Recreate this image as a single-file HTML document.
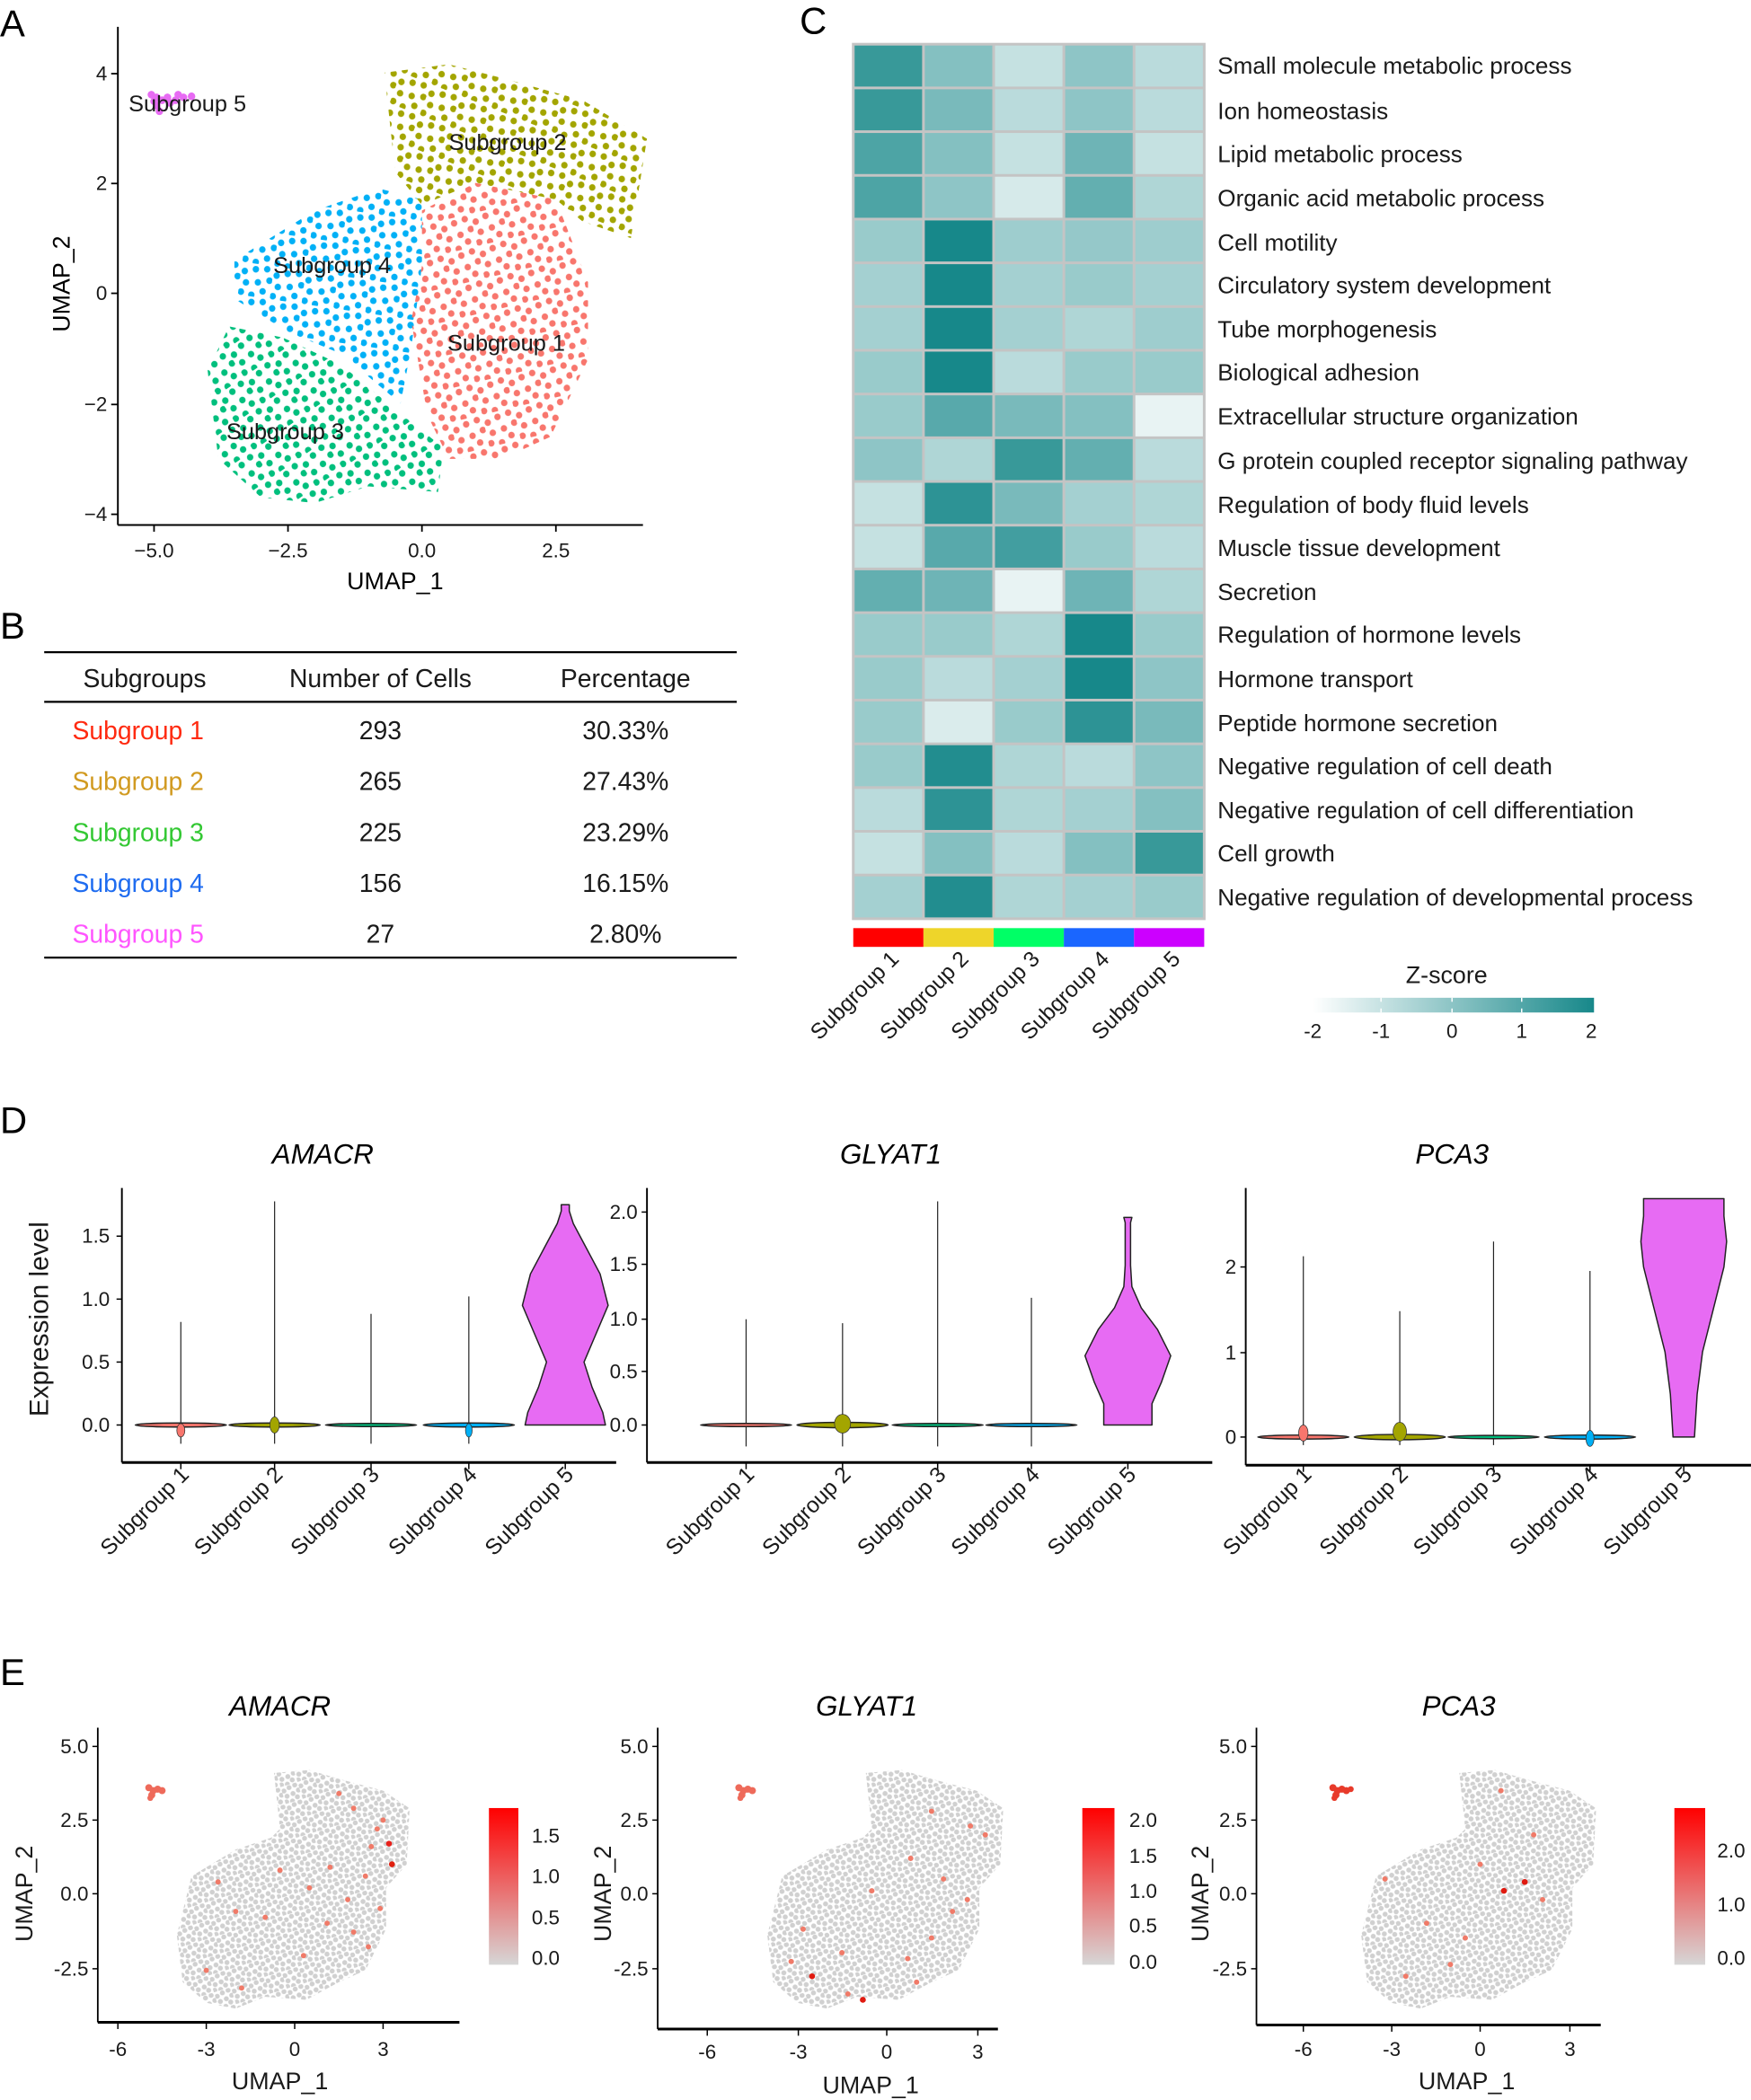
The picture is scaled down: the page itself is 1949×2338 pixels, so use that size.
<!DOCTYPE html>
<html><head><meta charset="utf-8">
<style>
html,body{margin:0;padding:0;background:#fff;}
svg{display:block;}
text{font-family:"Liberation Sans",Arial,sans-serif;fill:#1a1a1a;}
.pl{font-size:28px;fill:#000;}
.tk{font-size:15px;fill:#333;}
.ax{font-size:18px;fill:#000;}
.tb{font-size:19px;}
.hm{font-size:17.5px;fill:#222;}
.it{font-size:21px;font-style:italic;fill:#000;}
.rl{font-size:16.5px;fill:#000;}
</style></head>
<body>
<svg width="1949" height="2338" viewBox="0 0 1307.2 1568" preserveAspectRatio="none" xmlns="http://www.w3.org/2000/svg">
<defs>
<linearGradient id="zg" x1="0" x2="1" y1="0" y2="0"><stop offset="0" stop-color="#ffffff"/><stop offset="1" stop-color="#17888a"/></linearGradient>
<linearGradient id="rg" x1="0" x2="0" y1="1" y2="0"><stop offset="0" stop-color="#d6d6d6"/><stop offset="1" stop-color="#ff0000"/></linearGradient>
<g id="dots6">
<circle cx="0.05" cy="0.06" r="0.06"/><circle cx="0.25" cy="0.03" r="0.06"/><circle cx="0.45" cy="0.12" r="0.06"/>
<circle cx="0.12" cy="0.24" r="0.06"/><circle cx="0.34" cy="0.27" r="0.06"/><circle cx="0.55" cy="0.33" r="0.06"/>
<circle cx="0.07" cy="0.44" r="0.06"/><circle cx="0.27" cy="0.5" r="0.06"/><circle cx="0.48" cy="0.53" r="0.06"/>
</g>
<g id="dotsE">
<circle cx="0.05" cy="0.06" r="0.085"/><circle cx="0.25" cy="0.03" r="0.085"/><circle cx="0.45" cy="0.12" r="0.085"/>
<circle cx="0.12" cy="0.24" r="0.085"/><circle cx="0.34" cy="0.27" r="0.085"/><circle cx="0.55" cy="0.33" r="0.085"/>
<circle cx="0.07" cy="0.44" r="0.085"/><circle cx="0.27" cy="0.5" r="0.085"/><circle cx="0.48" cy="0.53" r="0.085"/>
</g>
<pattern id="p1" width="0.6" height="0.6" patternUnits="userSpaceOnUse" patternTransform="rotate(13)"><use href="#dots6" fill="#F8766D"/></pattern>
<pattern id="p2" width="0.6" height="0.6" patternUnits="userSpaceOnUse" patternTransform="rotate(-21)"><use href="#dots6" fill="#A3A500"/></pattern>
<pattern id="p3" width="0.6" height="0.6" patternUnits="userSpaceOnUse" patternTransform="rotate(34)"><use href="#dots6" fill="#00BF7D"/></pattern>
<pattern id="p4" width="0.6" height="0.6" patternUnits="userSpaceOnUse" patternTransform="rotate(-8) translate(0.2,0.1)"><use href="#dots6" fill="#00B0F6"/></pattern>
<pattern id="pg" width="0.6" height="0.6" patternUnits="userSpaceOnUse" patternTransform="rotate(17)"><use href="#dotsE" fill="#d0d0d0"/></pattern>
</defs>
<rect width="1307.2" height="1568" fill="#fff"/>
<text class="pl" x="0" y="27">A</text>
<text class="pl" x="0" y="477">B</text>
<text class="pl" x="597" y="25">C</text>
<text class="pl" x="0" y="846">D</text>
<text class="pl" x="0" y="1258">E</text>

<!-- Panel A -->
<g transform="translate(315,219) scale(40,-41.2)">
<polygon points="-3.5,0.6 -2,1.5 -0.8,1.9 0,1.7 0,0.5 -0.2,-1 -0.4,-2 -1.5,-1.1 -2.5,-0.7 -3.5,-0.1" fill="url(#p4)"/>
<polygon points="-4,-1.4 -3.6,-0.6 -2.6,-0.8 -1.5,-1.3 -0.5,-2.1 0.4,-2.8 0.3,-3.6 -1,-3.5 -2,-3.8 -3,-3.7 -3.8,-3" fill="url(#p3)"/>
<polygon points="0,1.5 1,2 2.5,1.7 3.1,0.2 3.1,-1.2 2.4,-2.6 1.5,-3 0.5,-3 0.1,-2.2 -0.2,-0.5 0,0.5" fill="url(#p1)"/>
<polygon points="-0.7,4 0.5,4.15 1.5,3.9 3,3.5 4.2,2.8 3.9,1 3,1.3 2.5,1.7 1,2 0,1.6 -0.5,2.2" fill="url(#p2)"/>
<g fill="#E76BF3">
<circle cx="-5.05" cy="3.6" r="0.07"/><circle cx="-4.95" cy="3.55" r="0.07"/><circle cx="-4.85" cy="3.5" r="0.07"/><circle cx="-4.75" cy="3.55" r="0.07"/><circle cx="-4.6" cy="3.5" r="0.07"/><circle cx="-4.45" cy="3.55" r="0.07"/><circle cx="-4.3" cy="3.57" r="0.07"/><circle cx="-4.95" cy="3.4" r="0.07"/><circle cx="-4.9" cy="3.3" r="0.07"/><circle cx="-5.0" cy="3.48" r="0.07"/><circle cx="-4.7" cy="3.45" r="0.07"/><circle cx="-4.55" cy="3.6" r="0.07"/>
</g>
</g>
<line x1="88" y1="20" x2="88" y2="392" stroke="#000" stroke-width="1.3"/>
<line x1="88" y1="392" x2="480" y2="392" stroke="#000" stroke-width="1.3"/>
<g stroke="#000" stroke-width="1.2">
<line x1="83" y1="55" x2="88" y2="55"/><line x1="83" y1="137" x2="88" y2="137"/><line x1="83" y1="219" x2="88" y2="219"/><line x1="83" y1="302" x2="88" y2="302"/><line x1="83" y1="384" x2="88" y2="384"/>
<line x1="115" y1="392" x2="115" y2="397"/><line x1="215" y1="392" x2="215" y2="397"/><line x1="315" y1="392" x2="315" y2="397"/><line x1="415" y1="392" x2="415" y2="397"/>
</g>
<g class="tk" text-anchor="end">
<text x="80" y="60">4</text><text x="80" y="142">2</text><text x="80" y="224">0</text><text x="80" y="307">−2</text><text x="80" y="389">−4</text>
</g>
<g class="tk" text-anchor="middle">
<text x="115" y="416">−5.0</text><text x="215" y="416">−2.5</text><text x="315" y="416">0.0</text><text x="415" y="416">2.5</text>
</g>
<text class="ax" x="295" y="440" text-anchor="middle">UMAP_1</text>
<text class="ax" transform="translate(52,212) rotate(-90)" text-anchor="middle">UMAP_2</text>
<g font-size="17" fill="#111">
<text x="96" y="83">Subgroup 5</text>
<text x="335" y="112">Subgroup 2</text>
<text x="204" y="204">Subgroup 4</text>
<text x="334" y="262">Subgroup 1</text>
<text x="169" y="328">Subgroup 3</text>
</g>

<!-- Panel B -->
<line x1="33" y1="487" x2="550" y2="487" stroke="#000" stroke-width="1.5"/>
<line x1="33" y1="524" x2="550" y2="524" stroke="#000" stroke-width="1.5"/>
<line x1="33" y1="715" x2="550" y2="715" stroke="#000" stroke-width="1.5"/>
<g class="tb" text-anchor="middle">
<text x="108" y="513">Subgroups</text><text x="284" y="513">Number of Cells</text><text x="467" y="513">Percentage</text>
<text x="284" y="552">293</text><text x="467" y="552">30.33%</text>
<text x="284" y="590">265</text><text x="467" y="590">27.43%</text>
<text x="284" y="628">225</text><text x="467" y="628">23.29%</text>
<text x="284" y="666">156</text><text x="467" y="666">16.15%</text>
<text x="284" y="704">27</text><text x="467" y="704">2.80%</text>
</g>
<g class="tb">
<text x="54" y="552" style="fill:#ff2a10">Subgroup  1</text>
<text x="54" y="590" style="fill:#d19a20">Subgroup  2</text>
<text x="54" y="628" style="fill:#33c833">Subgroup  3</text>
<text x="54" y="666" style="fill:#1f6cf0">Subgroup  4</text>
<text x="54" y="704" style="fill:#ff55ff">Subgroup  5</text>
</g>

<!-- Panel C heatmap -->
<rect x="636" y="32" width="264" height="655" fill="#c4c4c4"/>
<g>
<g transform="translate(0,34)"><rect x="638" width="50.4" height="30.65" fill="#389999"/><rect x="690.4" width="50.4" height="30.65" fill="#84c0c1"/><rect x="742.8" width="50.4" height="30.65" fill="#c5e1e1"/><rect x="795.2" width="50.4" height="30.65" fill="#8ec5c6"/><rect x="847.6" width="50.4" height="30.65" fill="#badbdc"/></g>
<g transform="translate(0,66.65)"><rect x="638" width="50.4" height="30.65" fill="#389999"/><rect x="690.4" width="50.4" height="30.65" fill="#79babb"/><rect x="742.8" width="50.4" height="30.65" fill="#badbdc"/><rect x="795.2" width="50.4" height="30.65" fill="#8ec5c6"/><rect x="847.6" width="50.4" height="30.65" fill="#badbdc"/></g>
<g transform="translate(0,99.3)"><rect x="638" width="50.4" height="30.65" fill="#4da4a5"/><rect x="690.4" width="50.4" height="30.65" fill="#84c0c1"/><rect x="742.8" width="50.4" height="30.65" fill="#c5e1e1"/><rect x="795.2" width="50.4" height="30.65" fill="#6eb4b6"/><rect x="847.6" width="50.4" height="30.65" fill="#c5e1e1"/></g>
<g transform="translate(0,131.95)"><rect x="638" width="50.4" height="30.65" fill="#4da4a5"/><rect x="690.4" width="50.4" height="30.65" fill="#8ec5c6"/><rect x="742.8" width="50.4" height="30.65" fill="#d6eaea"/><rect x="795.2" width="50.4" height="30.65" fill="#63afb0"/><rect x="847.6" width="50.4" height="30.65" fill="#afd6d6"/></g>
<g transform="translate(0,164.6)"><rect x="638" width="50.4" height="30.65" fill="#99cbcb"/><rect x="690.4" width="50.4" height="30.65" fill="#17888a"/><rect x="742.8" width="50.4" height="30.65" fill="#9ecdce"/><rect x="795.2" width="50.4" height="30.65" fill="#95c8c9"/><rect x="847.6" width="50.4" height="30.65" fill="#9ecdce"/></g>
<g transform="translate(0,197.25)"><rect x="638" width="50.4" height="30.65" fill="#a4d0d1"/><rect x="690.4" width="50.4" height="30.65" fill="#17888a"/><rect x="742.8" width="50.4" height="30.65" fill="#a4d0d1"/><rect x="795.2" width="50.4" height="30.65" fill="#99cbcb"/><rect x="847.6" width="50.4" height="30.65" fill="#a4d0d1"/></g>
<g transform="translate(0,229.9)"><rect x="638" width="50.4" height="30.65" fill="#a4d0d1"/><rect x="690.4" width="50.4" height="30.65" fill="#17888a"/><rect x="742.8" width="50.4" height="30.65" fill="#a4d0d1"/><rect x="795.2" width="50.4" height="30.65" fill="#afd6d6"/><rect x="847.6" width="50.4" height="30.65" fill="#9ecdce"/></g>
<g transform="translate(0,262.55)"><rect x="638" width="50.4" height="30.65" fill="#99cbcb"/><rect x="690.4" width="50.4" height="30.65" fill="#17888a"/><rect x="742.8" width="50.4" height="30.65" fill="#badbdc"/><rect x="795.2" width="50.4" height="30.65" fill="#99cbcb"/><rect x="847.6" width="50.4" height="30.65" fill="#99cbcb"/></g>
<g transform="translate(0,295.2)"><rect x="638" width="50.4" height="30.65" fill="#99cbcb"/><rect x="690.4" width="50.4" height="30.65" fill="#58a9ab"/><rect x="742.8" width="50.4" height="30.65" fill="#79babb"/><rect x="795.2" width="50.4" height="30.65" fill="#84c0c1"/><rect x="847.6" width="50.4" height="30.65" fill="#e8f3f3"/></g>
<g transform="translate(0,327.85)"><rect x="638" width="50.4" height="30.65" fill="#8ec5c6"/><rect x="690.4" width="50.4" height="30.65" fill="#afd6d6"/><rect x="742.8" width="50.4" height="30.65" fill="#389999"/><rect x="795.2" width="50.4" height="30.65" fill="#63afb0"/><rect x="847.6" width="50.4" height="30.65" fill="#badbdc"/></g>
<g transform="translate(0,360.5)"><rect x="638" width="50.4" height="30.65" fill="#c5e1e1"/><rect x="690.4" width="50.4" height="30.65" fill="#2d9395"/><rect x="742.8" width="50.4" height="30.65" fill="#79babb"/><rect x="795.2" width="50.4" height="30.65" fill="#a4d0d1"/><rect x="847.6" width="50.4" height="30.65" fill="#afd6d6"/></g>
<g transform="translate(0,393.15)"><rect x="638" width="50.4" height="30.65" fill="#c5e1e1"/><rect x="690.4" width="50.4" height="30.65" fill="#58a9ab"/><rect x="742.8" width="50.4" height="30.65" fill="#429ea0"/><rect x="795.2" width="50.4" height="30.65" fill="#99cbcb"/><rect x="847.6" width="50.4" height="30.65" fill="#badbdc"/></g>
<g transform="translate(0,425.8)"><rect x="638" width="50.4" height="30.65" fill="#63afb0"/><rect x="690.4" width="50.4" height="30.65" fill="#6eb4b6"/><rect x="742.8" width="50.4" height="30.65" fill="#e8f3f3"/><rect x="795.2" width="50.4" height="30.65" fill="#6eb4b6"/><rect x="847.6" width="50.4" height="30.65" fill="#afd6d6"/></g>
<g transform="translate(0,458.45)"><rect x="638" width="50.4" height="30.65" fill="#99cbcb"/><rect x="690.4" width="50.4" height="30.65" fill="#99cbcb"/><rect x="742.8" width="50.4" height="30.65" fill="#afd6d6"/><rect x="795.2" width="50.4" height="30.65" fill="#17888a"/><rect x="847.6" width="50.4" height="30.65" fill="#99cbcb"/></g>
<g transform="translate(0,491.1)"><rect x="638" width="50.4" height="30.65" fill="#99cbcb"/><rect x="690.4" width="50.4" height="30.65" fill="#badbdc"/><rect x="742.8" width="50.4" height="30.65" fill="#a4d0d1"/><rect x="795.2" width="50.4" height="30.65" fill="#17888a"/><rect x="847.6" width="50.4" height="30.65" fill="#8ec5c6"/></g>
<g transform="translate(0,523.75)"><rect x="638" width="50.4" height="30.65" fill="#99cbcb"/><rect x="690.4" width="50.4" height="30.65" fill="#daecec"/><rect x="742.8" width="50.4" height="30.65" fill="#99cbcb"/><rect x="795.2" width="50.4" height="30.65" fill="#2d9395"/><rect x="847.6" width="50.4" height="30.65" fill="#79babb"/></g>
<g transform="translate(0,556.4)"><rect x="638" width="50.4" height="30.65" fill="#99cbcb"/><rect x="690.4" width="50.4" height="30.65" fill="#228d8f"/><rect x="742.8" width="50.4" height="30.65" fill="#afd6d6"/><rect x="795.2" width="50.4" height="30.65" fill="#badbdc"/><rect x="847.6" width="50.4" height="30.65" fill="#8ec5c6"/></g>
<g transform="translate(0,589.05)"><rect x="638" width="50.4" height="30.65" fill="#badbdc"/><rect x="690.4" width="50.4" height="30.65" fill="#2d9395"/><rect x="742.8" width="50.4" height="30.65" fill="#afd6d6"/><rect x="795.2" width="50.4" height="30.65" fill="#a4d0d1"/><rect x="847.6" width="50.4" height="30.65" fill="#84c0c1"/></g>
<g transform="translate(0,621.7)"><rect x="638" width="50.4" height="30.65" fill="#c5e1e1"/><rect x="690.4" width="50.4" height="30.65" fill="#84c0c1"/><rect x="742.8" width="50.4" height="30.65" fill="#badbdc"/><rect x="795.2" width="50.4" height="30.65" fill="#84c0c1"/><rect x="847.6" width="50.4" height="30.65" fill="#389999"/></g>
<g transform="translate(0,654.35)"><rect x="638" width="50.4" height="30.65" fill="#a4d0d1"/><rect x="690.4" width="50.4" height="30.65" fill="#228d8f"/><rect x="742.8" width="50.4" height="30.65" fill="#afd6d6"/><rect x="795.2" width="50.4" height="30.65" fill="#a4d0d1"/><rect x="847.6" width="50.4" height="30.65" fill="#99cbcb"/></g>
</g>
<g class="hm">
<text x="909" y="55">Small molecule metabolic process</text>
<text x="909" y="89">Ion homeostasis</text>
<text x="909" y="121">Lipid metabolic process</text>
<text x="909" y="154">Organic acid metabolic process</text>
<text x="909" y="187">Cell motility</text>
<text x="909" y="219">Circulatory system development</text>
<text x="909" y="252">Tube morphogenesis</text>
<text x="909" y="284">Biological adhesion</text>
<text x="909" y="317">Extracellular structure organization</text>
<text x="909" y="350">G protein coupled receptor signaling pathway</text>
<text x="909" y="383">Regulation of body fluid levels</text>
<text x="909" y="415">Muscle tissue development</text>
<text x="909" y="448">Secretion</text>
<text x="909" y="480">Regulation of hormone levels</text>
<text x="909" y="513">Hormone transport</text>
<text x="909" y="546">Peptide hormone secretion</text>
<text x="909" y="578">Negative regulation of cell death</text>
<text x="909" y="611">Negative regulation of cell differentiation</text>
<text x="909" y="643">Cell growth</text>
<text x="909" y="676">Negative regulation of developmental process</text>
</g>
<rect x="637" y="693" width="52.4" height="14" fill="#ff0000"/>
<rect x="689.4" y="693" width="52.4" height="14" fill="#eed52a"/>
<rect x="741.8" y="693" width="52.4" height="14" fill="#00ff66"/>
<rect x="794.2" y="693" width="52.4" height="14" fill="#1a66ff"/>
<rect x="846.6" y="693" width="52.4" height="14" fill="#cc00ff"/>
<g class="rl" text-anchor="end">
<text transform="translate(672,717) rotate(-45)">Subgroup 1</text>
<text transform="translate(724,717) rotate(-45)">Subgroup 2</text>
<text transform="translate(777,717) rotate(-45)">Subgroup 3</text>
<text transform="translate(829,717) rotate(-45)">Subgroup 4</text>
<text transform="translate(882,717) rotate(-45)">Subgroup 5</text>
</g>
<text x="1080" y="734" font-size="18" text-anchor="middle">Z-score</text>
<rect x="980" y="745" width="210" height="11" fill="url(#zg)"/>
<g stroke="#fff" stroke-width="1"><line x1="1031" y1="745" x2="1031" y2="748"/><line x1="1084" y1="745" x2="1084" y2="748"/><line x1="1136" y1="745" x2="1136" y2="748"/><line x1="1031" y1="753" x2="1031" y2="756"/><line x1="1084" y1="753" x2="1084" y2="756"/><line x1="1136" y1="753" x2="1136" y2="756"/></g>
<g font-size="15" text-anchor="middle">
<text x="980" y="775">-2</text><text x="1031" y="775">-1</text><text x="1084" y="775">0</text><text x="1136" y="775">1</text><text x="1188" y="775">2</text>
</g>

<!-- Panel D -->
<text class="it" x="241" y="869" text-anchor="middle">AMACR</text>
<text class="it" x="665" y="869" text-anchor="middle">GLYAT1</text>
<text class="it" x="1084" y="869" text-anchor="middle">PCA3</text>
<text transform="translate(36,985) rotate(-90)" font-size="20" text-anchor="middle" fill="#000">Expression level</text>
<g stroke="#000">
<line x1="91" y1="887" x2="91" y2="1092" stroke-width="1.3"/><line x1="91" y1="1092" x2="460" y2="1092" stroke-width="2"/>
<line x1="483" y1="887" x2="483" y2="1092" stroke-width="1.3"/><line x1="483" y1="1092" x2="905" y2="1092" stroke-width="2"/>
<line x1="930" y1="887" x2="930" y2="1094" stroke-width="1.3"/><line x1="930" y1="1094" x2="1340" y2="1094" stroke-width="2"/>
<line x1="87" y1="1064" x2="91" y2="1064"/><line x1="87" y1="1017" x2="91" y2="1017"/><line x1="87" y1="970" x2="91" y2="970"/><line x1="87" y1="923" x2="91" y2="923"/>
<line x1="479" y1="1064" x2="483" y2="1064"/><line x1="479" y1="1024" x2="483" y2="1024"/><line x1="479" y1="985" x2="483" y2="985"/><line x1="479" y1="944" x2="483" y2="944"/><line x1="479" y1="905" x2="483" y2="905"/>
<line x1="926" y1="1073" x2="930" y2="1073"/><line x1="926" y1="1010" x2="930" y2="1010"/><line x1="926" y1="946" x2="930" y2="946"/>
<line x1="135" y1="1092" x2="135" y2="1097"/><line x1="205" y1="1092" x2="205" y2="1097"/><line x1="277" y1="1092" x2="277" y2="1097"/><line x1="350" y1="1092" x2="350" y2="1097"/><line x1="422" y1="1092" x2="422" y2="1097"/>
<line x1="557" y1="1092" x2="557" y2="1097"/><line x1="629" y1="1092" x2="629" y2="1097"/><line x1="700" y1="1092" x2="700" y2="1097"/><line x1="770" y1="1092" x2="770" y2="1097"/><line x1="842" y1="1092" x2="842" y2="1097"/>
<line x1="973" y1="1094" x2="973" y2="1099"/><line x1="1045" y1="1094" x2="1045" y2="1099"/><line x1="1115" y1="1094" x2="1115" y2="1099"/><line x1="1187" y1="1094" x2="1187" y2="1099"/><line x1="1257" y1="1094" x2="1257" y2="1099"/>
</g>
<g stroke="#222" stroke-width="0.8">
<line x1="135" y1="1078" x2="135" y2="987"/><line x1="205" y1="1078" x2="205" y2="897"/><line x1="277" y1="1078" x2="277" y2="981"/><line x1="350" y1="1078" x2="350" y2="968"/>
<line x1="557" y1="1080" x2="557" y2="985"/><line x1="629" y1="1080" x2="629" y2="988"/><line x1="700" y1="1080" x2="700" y2="897"/><line x1="770" y1="1080" x2="770" y2="969"/>
<line x1="973" y1="1079" x2="973" y2="938"/><line x1="1045" y1="1079" x2="1045" y2="979"/><line x1="1115" y1="1079" x2="1115" y2="927"/><line x1="1187" y1="1079" x2="1187" y2="949"/>
</g>
<g stroke="#222" stroke-width="1">
<ellipse cx="135" cy="1064" rx="34" ry="1.5" fill="#F8766D"/><ellipse cx="205" cy="1064" rx="34" ry="1.5" fill="#A3A500"/><ellipse cx="277" cy="1064" rx="34" ry="1.2" fill="#00BF7D"/><ellipse cx="350" cy="1064" rx="34" ry="1.5" fill="#00B0F6"/>
<ellipse cx="557" cy="1064" rx="34" ry="1.2" fill="#F8766D"/><ellipse cx="629" cy="1064" rx="34" ry="2" fill="#A3A500"/><ellipse cx="700" cy="1064" rx="34" ry="1.2" fill="#00BF7D"/><ellipse cx="770" cy="1064" rx="34" ry="1.2" fill="#00B0F6"/>
<ellipse cx="973" cy="1073" rx="34" ry="1.5" fill="#F8766D"/><ellipse cx="1045" cy="1073" rx="34" ry="2" fill="#A3A500"/><ellipse cx="1115" cy="1073" rx="34" ry="1.2" fill="#00BF7D"/><ellipse cx="1187" cy="1073" rx="34" ry="1.5" fill="#00B0F6"/>
</g>
<g stroke="#333" stroke-width="0.5">
<ellipse cx="135" cy="1068" rx="3" ry="5" fill="#F8766D"/><ellipse cx="205" cy="1064" rx="3.5" ry="6" fill="#A3A500"/><ellipse cx="350" cy="1068" rx="2.5" ry="5" fill="#00B0F6"/>
<ellipse cx="629" cy="1063" rx="6" ry="7" fill="#A3A500"/>
<ellipse cx="973" cy="1070" rx="3.5" ry="6" fill="#F8766D"/><ellipse cx="1045" cy="1069" rx="5" ry="7" fill="#A3A500"/><ellipse cx="1187" cy="1074" rx="3" ry="6" fill="#00B0F6"/>
</g>
<g fill="#E76BF3" stroke="#222" stroke-width="1" stroke-linejoin="round">
<path d="M392,1064 L452,1064 L450,1054.6 L442,1035.8 L436,1017 L444,998.2 L454,974.7 L448,951.2 L438,932.4 L428,913.6 L425,904.2 L425,899.5 L419,899.5 L419,904.2 L416,913.6 L406,932.4 L396,951.2 L390,974.7 L400,998.2 L408,1017 L402,1035.8 L394,1054.6 Z"/>
<path d="M824,1064 L860,1064 L860,1048.1 L867,1032.2 L874,1012.3 L864,992.5 L852,976.5 L845,960.7 L844,944.8 L844,912.9 L845,909 L839,909 L840,912.9 L840,944.8 L839,960.7 L832,976.5 L820,992.5 L810,1012.3 L817,1032.2 L824,1048.1 Z"/>
<path d="M1249,1073 L1265,1073 L1267,1041 L1271,1009.5 L1279,977.8 L1287,946 L1289,927 L1287,908 L1287,895 L1227,895 L1227,908 L1225,927 L1227,946 L1235,977.8 L1243,1009.5 L1247,1041 Z"/>
</g>
<g class="tk" text-anchor="end">
<text x="82" y="1069">0.0</text><text x="82" y="1022">0.5</text><text x="82" y="975">1.0</text><text x="82" y="928">1.5</text>
<text x="476" y="1069">0.0</text><text x="476" y="1029">0.5</text><text x="476" y="990">1.0</text><text x="476" y="949">1.5</text><text x="476" y="910">2.0</text>
<text x="923" y="1078">0</text><text x="923" y="1015">1</text><text x="923" y="951">2</text>
</g>
<g class="rl" text-anchor="end">
<text transform="translate(142,1102) rotate(-45)">Subgroup 1</text>
<text transform="translate(212,1102) rotate(-45)">Subgroup 2</text>
<text transform="translate(284,1102) rotate(-45)">Subgroup 3</text>
<text transform="translate(357,1102) rotate(-45)">Subgroup 4</text>
<text transform="translate(429,1102) rotate(-45)">Subgroup 5</text>
<text transform="translate(564,1102) rotate(-45)">Subgroup 1</text>
<text transform="translate(636,1102) rotate(-45)">Subgroup 2</text>
<text transform="translate(707,1102) rotate(-45)">Subgroup 3</text>
<text transform="translate(777,1102) rotate(-45)">Subgroup 4</text>
<text transform="translate(849,1102) rotate(-45)">Subgroup 5</text>
<text transform="translate(980,1102) rotate(-45)">Subgroup 1</text>
<text transform="translate(1052,1102) rotate(-45)">Subgroup 2</text>
<text transform="translate(1122,1102) rotate(-45)">Subgroup 3</text>
<text transform="translate(1194,1102) rotate(-45)">Subgroup 4</text>
<text transform="translate(1264,1102) rotate(-45)">Subgroup 5</text>
</g>

<!-- Panel E -->
<text class="it" x="209" y="1281" text-anchor="middle">AMACR</text>
<text class="it" x="647" y="1281" text-anchor="middle">GLYAT1</text>
<text class="it" x="1089" y="1281" text-anchor="middle">PCA3</text>

<g transform="translate(220,1414) scale(22,-22)">
<polygon points="-0.7,4.1 0.5,4.2 1.5,3.9 3,3.5 3.9,2.9 3.8,1 3.1,0.2 3.1,-1.2 2.4,-2.6 1.5,-3 0.4,-3.6 -1,-3.5 -2,-3.9 -3,-3.7 -3.8,-3 -4,-1.4 -3.5,0.6 -2,1.5 -0.8,1.9 -0.5,2.2" fill="url(#pg)"/>
<g fill="#f07a68"><circle cx="1.5" cy="3.4" r="0.09"/><circle cx="2" cy="2.9" r="0.09"/><circle cx="2.8" cy="2.2" r="0.09"/><circle cx="3.2" cy="1.7" r="0.1" fill="#e8201a"/><circle cx="2.6" cy="1.6" r="0.09"/><circle cx="3.3" cy="1.0" r="0.1" fill="#e02010"/><circle cx="1.2" cy="0.9" r="0.09"/><circle cx="2.4" cy="0.6" r="0.09"/><circle cx="0.5" cy="0.2" r="0.09"/><circle cx="1.8" cy="-0.2" r="0.09"/><circle cx="2.9" cy="-0.5" r="0.09"/><circle cx="-2.6" cy="0.4" r="0.09"/><circle cx="-1" cy="-0.8" r="0.09"/><circle cx="2" cy="-1.3" r="0.09"/><circle cx="2.5" cy="-1.8" r="0.09"/><circle cx="-3" cy="-2.6" r="0.09"/><circle cx="-1.8" cy="-3.2" r="0.09"/><circle cx="0.3" cy="-2.1" r="0.09"/><circle cx="-0.5" cy="0.8" r="0.09"/><circle cx="3" cy="2.5" r="0.09"/><circle cx="1.1" cy="-1.0" r="0.09"/><circle cx="-2.0" cy="-0.6" r="0.09"/></g>
<g fill="#ee6a5a"><circle cx="-4.95" cy="3.6" r="0.12"/><circle cx="-4.8" cy="3.5" r="0.12"/><circle cx="-4.65" cy="3.55" r="0.12"/><circle cx="-4.85" cy="3.35" r="0.12"/><circle cx="-4.5" cy="3.5" r="0.12"/><circle cx="-4.9" cy="3.25" r="0.1"/></g>
</g>
<g transform="translate(662,1414) scale(22.3,-22)">
<polygon points="-0.7,4.1 0.5,4.2 1.5,3.9 3,3.5 3.9,2.9 3.8,1 3.1,0.2 3.1,-1.2 2.4,-2.6 1.5,-3 0.4,-3.6 -1,-3.5 -2,-3.9 -3,-3.7 -3.8,-3 -4,-1.4 -3.5,0.6 -2,1.5 -0.8,1.9 -0.5,2.2" fill="url(#pg)"/>
<g fill="#f07a68"><circle cx="1.5" cy="2.8" r="0.09"/><circle cx="2.8" cy="2.3" r="0.09"/><circle cx="3.3" cy="2.0" r="0.09"/><circle cx="0.8" cy="1.2" r="0.09"/><circle cx="1.9" cy="0.5" r="0.09"/><circle cx="-0.5" cy="0.1" r="0.09"/><circle cx="2.2" cy="-0.6" r="0.09"/><circle cx="-2.8" cy="-1.2" r="0.09"/><circle cx="-1.5" cy="-2.0" r="0.09"/><circle cx="0.7" cy="-2.2" r="0.09"/><circle cx="-2.5" cy="-2.8" r="0.1" fill="#e01a10"/><circle cx="-1.3" cy="-3.4" r="0.09"/><circle cx="-0.8" cy="-3.6" r="0.1" fill="#e01a10"/><circle cx="1.5" cy="-1.5" r="0.09"/><circle cx="-3.2" cy="-2.3" r="0.09"/><circle cx="2.7" cy="-0.2" r="0.09"/><circle cx="1.0" cy="-3.0" r="0.09"/></g>
<g fill="#ee6a5a"><circle cx="-4.95" cy="3.6" r="0.12"/><circle cx="-4.8" cy="3.5" r="0.12"/><circle cx="-4.65" cy="3.55" r="0.12"/><circle cx="-4.85" cy="3.35" r="0.12"/><circle cx="-4.5" cy="3.5" r="0.12"/><circle cx="-4.9" cy="3.25" r="0.1"/></g>
</g>
<g transform="translate(1105,1414) scale(22.2,-22)">
<polygon points="-0.7,4.1 0.5,4.2 1.5,3.9 3,3.5 3.9,2.9 3.8,1 3.1,0.2 3.1,-1.2 2.4,-2.6 1.5,-3 0.4,-3.6 -1,-3.5 -2,-3.9 -3,-3.7 -3.8,-3 -4,-1.4 -3.5,0.6 -2,1.5 -0.8,1.9 -0.5,2.2" fill="url(#pg)"/>
<g fill="#f07a68"><circle cx="0" cy="1.0" r="0.09"/><circle cx="-3.2" cy="0.5" r="0.09"/><circle cx="1.5" cy="0.4" r="0.1" fill="#e01a10"/><circle cx="0.8" cy="0.1" r="0.1" fill="#e01a10"/><circle cx="2.1" cy="-0.2" r="0.09"/><circle cx="-1.8" cy="-1.0" r="0.09"/><circle cx="-0.5" cy="-1.5" r="0.09"/><circle cx="1.8" cy="2.0" r="0.09"/><circle cx="-2.5" cy="-2.8" r="0.09"/><circle cx="0.7" cy="3.5" r="0.09"/><circle cx="-1.0" cy="-2.4" r="0.09"/></g>
<g fill="#e83a2a"><circle cx="-4.95" cy="3.6" r="0.12"/><circle cx="-4.8" cy="3.5" r="0.12"/><circle cx="-4.65" cy="3.55" r="0.12"/><circle cx="-4.85" cy="3.35" r="0.12"/><circle cx="-4.5" cy="3.5" r="0.12"/><circle cx="-4.9" cy="3.25" r="0.1"/><circle cx="-4.35" cy="3.55" r="0.1"/></g>
</g>
<g stroke="#000">
<line x1="73" y1="1290" x2="73" y2="1510" stroke-width="1.2"/><line x1="73" y1="1510" x2="343" y2="1510" stroke-width="2"/>
<line x1="491" y1="1290" x2="491" y2="1515" stroke-width="1.2"/><line x1="491" y1="1515" x2="745" y2="1515" stroke-width="2"/>
<line x1="938" y1="1290" x2="938" y2="1512" stroke-width="1.2"/><line x1="938" y1="1512" x2="1195" y2="1512" stroke-width="2"/>
<line x1="69" y1="1304" x2="73" y2="1304"/><line x1="69" y1="1359" x2="73" y2="1359"/><line x1="69" y1="1414" x2="73" y2="1414"/><line x1="69" y1="1470" x2="73" y2="1470"/>
<line x1="487" y1="1304" x2="491" y2="1304"/><line x1="487" y1="1359" x2="491" y2="1359"/><line x1="487" y1="1414" x2="491" y2="1414"/><line x1="487" y1="1470" x2="491" y2="1470"/>
<line x1="934" y1="1304" x2="938" y2="1304"/><line x1="934" y1="1359" x2="938" y2="1359"/><line x1="934" y1="1414" x2="938" y2="1414"/><line x1="934" y1="1470" x2="938" y2="1470"/>
<line x1="88" y1="1510" x2="88" y2="1515"/><line x1="154" y1="1510" x2="154" y2="1515"/><line x1="220" y1="1510" x2="220" y2="1515"/><line x1="286" y1="1510" x2="286" y2="1515"/>
<line x1="528" y1="1515" x2="528" y2="1520"/><line x1="596" y1="1515" x2="596" y2="1520"/><line x1="662" y1="1515" x2="662" y2="1520"/><line x1="730" y1="1515" x2="730" y2="1520"/>
<line x1="973" y1="1512" x2="973" y2="1517"/><line x1="1039" y1="1512" x2="1039" y2="1517"/><line x1="1105" y1="1512" x2="1105" y2="1517"/><line x1="1172" y1="1512" x2="1172" y2="1517"/>
</g>
<g class="tk" text-anchor="end">
<text x="66" y="1309">5.0</text><text x="66" y="1364">2.5</text><text x="66" y="1419">0.0</text><text x="66" y="1475">-2.5</text>
<text x="484" y="1309">5.0</text><text x="484" y="1364">2.5</text><text x="484" y="1419">0.0</text><text x="484" y="1475">-2.5</text>
<text x="931" y="1309">5.0</text><text x="931" y="1364">2.5</text><text x="931" y="1419">0.0</text><text x="931" y="1475">-2.5</text>
</g>
<g class="tk" text-anchor="middle">
<text x="88" y="1535">-6</text><text x="154" y="1535">-3</text><text x="220" y="1535">0</text><text x="286" y="1535">3</text>
<text x="528" y="1537">-6</text><text x="596" y="1537">-3</text><text x="662" y="1537">0</text><text x="730" y="1537">3</text>
<text x="973" y="1535">-6</text><text x="1039" y="1535">-3</text><text x="1105" y="1535">0</text><text x="1172" y="1535">3</text>
</g>
<g class="ax" text-anchor="middle">
<text x="209" y="1560">UMAP_1</text><text x="650" y="1563">UMAP_1</text><text x="1095" y="1560">UMAP_1</text>
<text transform="translate(24,1414) rotate(-90)">UMAP_2</text>
<text transform="translate(462,1414) rotate(-90)" dy="-6">UMAP_2</text>
<text transform="translate(908,1414) rotate(-90)" dy="-6">UMAP_2</text>
</g>
<rect x="365" y="1350" width="22" height="117" fill="url(#rg)"/>
<rect x="808" y="1350" width="24" height="117" fill="url(#rg)"/>
<rect x="1250" y="1350" width="23" height="117" fill="url(#rg)"/>
<g class="tk">
<text x="397" y="1376">1.5</text><text x="397" y="1406">1.0</text><text x="397" y="1437">0.5</text><text x="397" y="1467">0.0</text>
<text x="843" y="1364">2.0</text><text x="843" y="1391">1.5</text><text x="843" y="1417">1.0</text><text x="843" y="1443">0.5</text><text x="843" y="1470">0.0</text>
<text x="1282" y="1387">2.0</text><text x="1282" y="1427">1.0</text><text x="1282" y="1467">0.0</text>
</g>
</svg>
</body></html>
